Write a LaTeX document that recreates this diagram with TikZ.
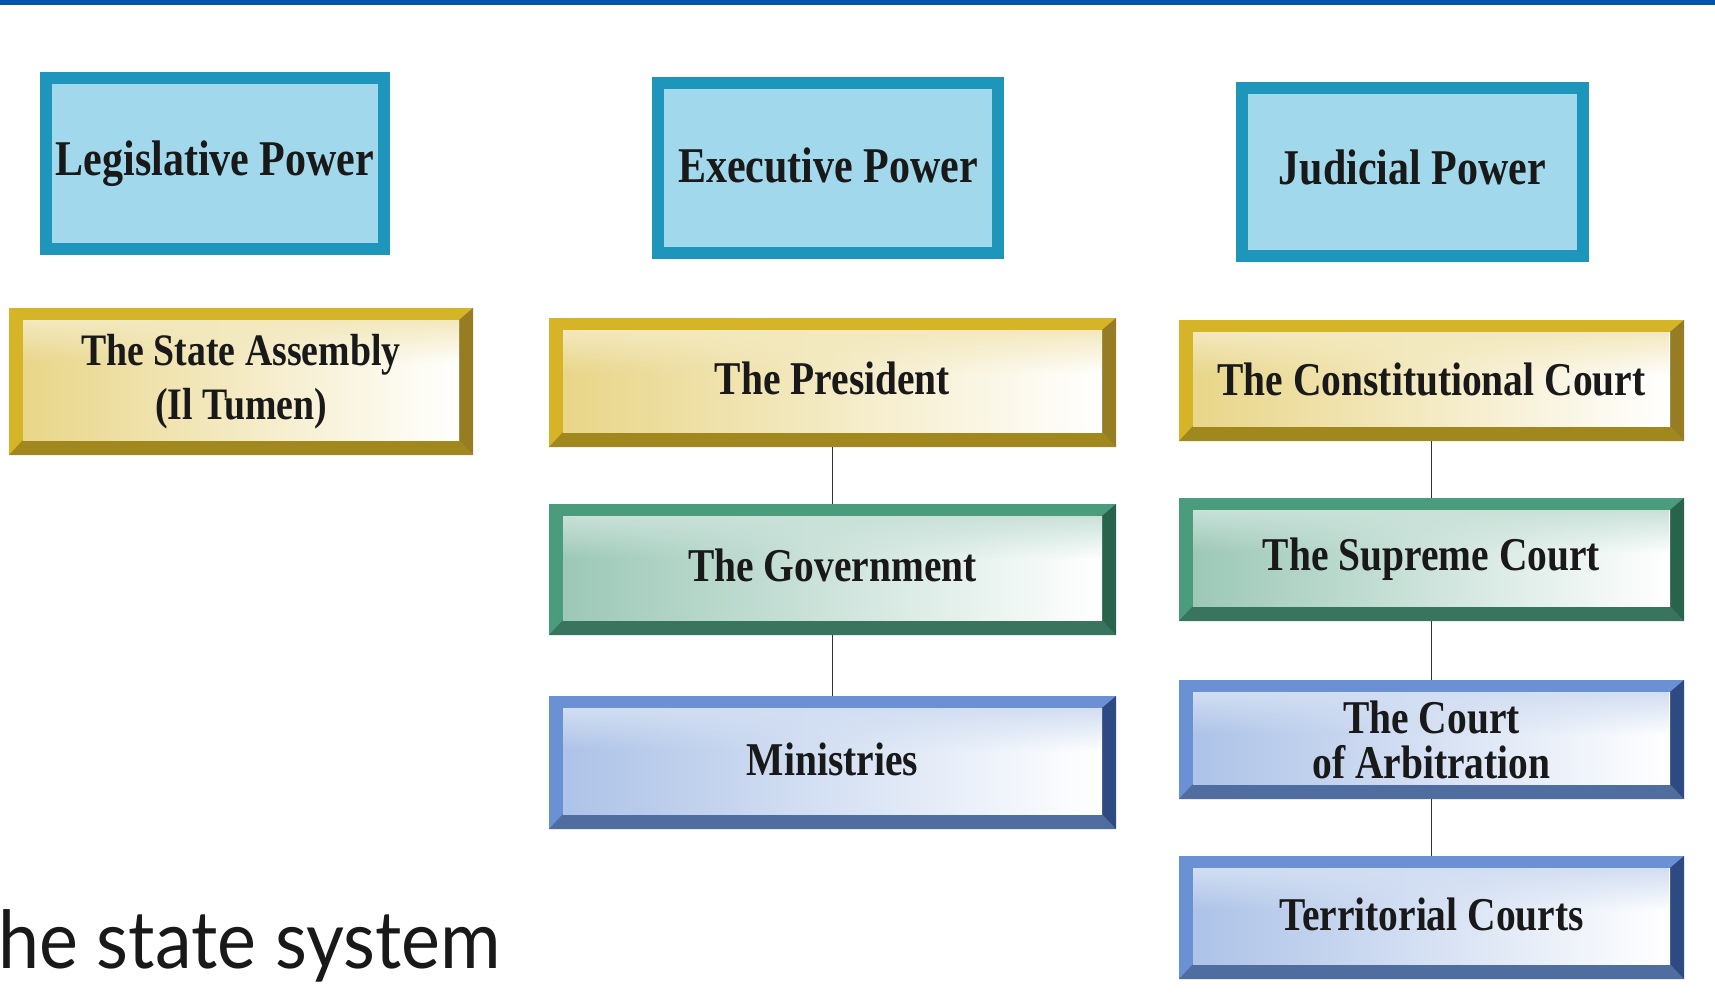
\documentclass[tikz,border=0pt]{standalone}
\usepackage{fontspec}
\usetikzlibrary{fadings}
\newfontfamily\boxfont[FakeStretch=0.84]{Liberation Serif}
\newfontfamily\titlefont[FakeStretch=0.92]{Lato}
\newcommand\liftup[2]{\raisebox{#1pt}{#2}}
\definecolor{topbar}{RGB}{0,85,170}
\definecolor{hdrborder}{RGB}{30,150,188}
\definecolor{hdrfill}{RGB}{162,216,235}
\definecolor{goldc}{RGB}{214,180,40}
\definecolor{golddk}{RGB}{150,125,35}
\definecolor{greenc}{RGB}{75,155,125}
\definecolor{greendk}{RGB}{40,100,75}
\definecolor{bluec}{RGB}{105,145,212}
\definecolor{bluedk}{RGB}{45,75,130}
\definecolor{inkc}{RGB}{25,25,25}
\tikzset{
  header/.style={draw=hdrborder, line width=12pt, fill=hdrfill, inner sep=0pt, outer sep=0pt,
    text=inkc, align=center, font=\boxfont\bfseries\fontsize{50}{60}\selectfont},
  framebox/.style n args={2}{fill=#1, inner sep=0pt, outer sep=0pt, text=inkc, align=center,
    font=\boxfont\bfseries\fontsize{47}{50}\selectfont,
    path picture={
      \fill[#1!75!black] ([xshift=14pt,yshift=15pt]path picture bounding box.south west)
        -- (path picture bounding box.south west) -- (path picture bounding box.south east)
        -- ([xshift=-14pt,yshift=15pt]path picture bounding box.south east) -- cycle;
      \fill[#2] ([xshift=-14pt,yshift=-12pt]path picture bounding box.north east)
        -- (path picture bounding box.north east) -- (path picture bounding box.south east)
        -- ([xshift=-14pt,yshift=15pt]path picture bounding box.south east) -- cycle;
      \shade[left color=#1!55!white, middle color=white, right color=white]
        ([xshift=14pt,yshift=-12pt]path picture bounding box.north west)
        rectangle ([xshift=-14pt,yshift=15pt]path picture bounding box.south east);
      \fill[#1!30!white, path fading=south]
        ([xshift=14pt,yshift=-12pt]path picture bounding box.north west)
        rectangle ([xshift=-14pt,yshift=-55pt]path picture bounding box.north east);
    }},
  goldbox/.style={framebox={goldc}{golddk}},
  greenbox/.style={framebox={greenc}{greendk}},
  bluebox/.style={framebox={bluec}{bluedk}},
  link/.style={draw=black!80, line width=1.6pt}
}
\begin{document}
\begin{tikzpicture}[x=1pt, y=-1pt]
\useasboundingbox (0,0) rectangle (1715,995);
\fill[white] (0,0) rectangle (1715,995);
\fill[topbar] (0,0) rectangle (1715,5);

% header boxes
\node[header, minimum width=338pt, minimum height=171pt] (leg) at (215,163.5) {\liftup{4}{Legislative Power}};
\node[header, minimum width=340pt, minimum height=170pt] (exe) at (828,168) {\liftup{5}{Executive Power}};
\node[header, minimum width=341pt, minimum height=168pt] (jud) at (1412.5,172) {\liftup{9}{Judicial Power}};

% legislative column
\node[goldbox, minimum width=464pt, minimum height=147pt,
  font=\boxfont\bfseries\fontsize{45}{54}\selectfont] (sa) at (241,381.5) {The State Assembly\\(Il Tumen)};

% executive column
\node[goldbox, minimum width=567pt, minimum height=129pt] (pres) at (832.5,382.5) {\liftup{8}{The President}};
\node[greenbox, minimum width=567pt, minimum height=131pt] (gov) at (832.5,569.5) {\liftup{8}{The Government}};
\node[bluebox, minimum width=567pt, minimum height=133pt] (min) at (832.5,762.5) {\liftup{6}{Ministries}};

% judicial column
\node[goldbox, minimum width=505pt, minimum height=121pt] (con) at (1431.5,380.5) {\liftup{3}{The Constitutional Court}};
\node[greenbox, minimum width=505pt, minimum height=123pt] (sup) at (1431.5,559.5) {\liftup{3}{The Supreme Court}};
\node[bluebox, minimum width=505pt, minimum height=119pt] (arb) at (1431.5,739.5) {The Court\\[-5pt]of Arbitration};
\node[bluebox, minimum width=505pt, minimum height=123pt] (ter) at (1431.5,917.5) {\liftup{6}{Territorial Courts}};

% connectors
\draw[link] (pres) -- (gov);
\draw[link] (gov) -- (min);
\draw[link] (con) -- (sup);
\draw[link] (sup) -- (arb);
\draw[link] (arb) -- (ter);

% caption
\node[anchor=base west, inner sep=0pt, text=inkc, font=\titlefont\fontsize{80}{90}\selectfont] (cap) at (-2,968) {he state system};
\end{tikzpicture}
\end{document}
